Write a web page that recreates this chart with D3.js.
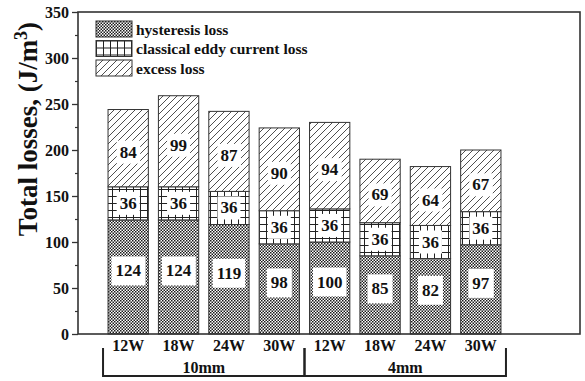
<!DOCTYPE html>
<html>
<head>
<meta charset="utf-8">
<script src="https://cdn.jsdelivr.net/npm/d3@7"></script>
<style>
  html, body { margin: 0; padding: 0; background: #fff; }
  svg { display: block; }
  text { font-family: "Liberation Serif", "Times New Roman", serif; font-weight: bold; fill: #111; }
</style>
</head>
<body>
<svg id="chart" width="585" height="381"></svg>
<script>
// Loss components per sample (J/m^3)
const categories = ["12W", "18W", "24W", "30W", "12W", "18W", "24W", "30W"];
const groupLabels = ["10mm", "4mm"];
const groupSizes = [4, 4];
const hysteresis = [124, 124, 119, 98, 100, 85, 82, 97];
const eddy = [36, 36, 36, 36, 36, 36, 36, 36];
const excess = [84, 99, 87, 90, 94, 69, 64, 67];
const seriesNames = ["hysteresis loss", "classical eddy current loss", "excess loss"];
const yTicks = [0, 50, 100, 150, 200, 250, 300, 350];
const yMinorTicks = [25, 75, 125, 175, 225, 275, 325];

const svg = d3.select("#chart");
const frame = { left: 78, right: 580, top: 12, bottom: 334 };

// Fill patterns for the three components
const defs = svg.append("defs");
const pChk = defs.append("pattern").attr("id", "pat-hyst")
  .attr("patternUnits", "userSpaceOnUse").attr("width", 3).attr("height", 3);
pChk.append("rect").attr("width", 3).attr("height", 3).attr("fill", "#fff");
pChk.append("rect").attr("x", 0).attr("y", 0).attr("width", 1.5).attr("height", 1.5).attr("fill", "#1a1a1a");
pChk.append("rect").attr("x", 1.5).attr("y", 1.5).attr("width", 1.5).attr("height", 1.5).attr("fill", "#1a1a1a");

const pGrid = defs.append("pattern").attr("id", "pat-eddy")
  .attr("patternUnits", "userSpaceOnUse").attr("width", 7).attr("height", 7);
pGrid.append("rect").attr("width", 7).attr("height", 7).attr("fill", "#fff");
pGrid.append("path").attr("d", "M0,0.5H7M0.5,0V7").attr("stroke", "#222").attr("stroke-width", 1);

const pHatch = defs.append("pattern").attr("id", "pat-excess")
  .attr("patternUnits", "userSpaceOnUse").attr("width", 7).attr("height", 7);
pHatch.append("rect").attr("width", 7).attr("height", 7).attr("fill", "#fff");
pHatch.append("path").attr("d", "M-1,8L8,-1M-1,1L1,-1M6,8L8,6").attr("stroke", "#222").attr("stroke-width", 0.8);

const fills = ["url(#pat-hyst)", "url(#pat-eddy)", "url(#pat-excess)"];

// Scales
const idx = d3.range(categories.length);
const x = d3.scaleBand().domain(idx).range([103, 506]).paddingInner(0.2).paddingOuter(0.1);
const y = d3.scaleLinear().domain([0, 350]).range([frame.bottom, frame.top]);

// Stacked data
const rows = idx.map(i => ({ i, h: hysteresis[i], e: eddy[i], x: excess[i] }));
const stack = d3.stack().keys(["h", "e", "x"]);
const layers = stack(rows);

// Bars
const barG = svg.append("g");
layers.forEach((layer, k) => {
  barG.selectAll(null).data(layer).join("rect")
    .attr("x", d => x(d.data.i))
    .attr("y", d => y(d[1]))
    .attr("width", x.bandwidth())
    .attr("height", d => y(d[0]) - y(d[1]))
    .attr("fill", fills[k])
    .attr("stroke", "#333").attr("stroke-width", 1);
});

// Value labels on white boxes
const labelCfg = [
  { padX: 4, padY: 5, shift: -6 },
  { padX: 3, padY: 2, shift: 0 },
  { padX: 3, padY: 2, shift: 4 }
];
layers.forEach((layer, k) => {
  layer.forEach(d => {
    const v = d[1] - d[0];
    const cx = x(d.data.i) + x.bandwidth() / 2;
    const cy = y((d[0] + d[1]) / 2) + labelCfg[k].shift;
    const g = svg.append("g");
    const t = g.append("text").attr("x", cx).attr("y", cy)
      .attr("text-anchor", "middle").attr("dominant-baseline", "central")
      .style("font-size", "17px").text(v);
    const bb = t.node().getBBox();
    g.insert("rect", "text")
      .attr("x", bb.x - labelCfg[k].padX).attr("y", bb.y - labelCfg[k].padY)
      .attr("width", bb.width + 2 * labelCfg[k].padX)
      .attr("height", bb.height + 2 * labelCfg[k].padY)
      .attr("fill", "#fff");
  });
});

// Frame (top, right, bottom, left)
svg.append("rect")
  .attr("x", frame.left).attr("y", frame.top)
  .attr("width", frame.right - frame.left).attr("height", frame.bottom - frame.top)
  .attr("fill", "none").attr("stroke", "#333").attr("stroke-width", 1.6);

// Y axis
const yAxis = d3.axisLeft(y).tickValues(yTicks).tickSize(6).tickPadding(3);
const yg = svg.append("g").attr("transform", `translate(${frame.left},0)`).call(yAxis);
yg.select(".domain").remove();
yg.selectAll(".tick line").attr("stroke", "#333").attr("stroke-width", 1.3);
yg.selectAll(".tick text").style("font-size", "16px")
  .style("font-family", '"Liberation Serif", "Times New Roman", serif').style("font-weight", "bold").attr("fill", "#111");
const ym = d3.axisLeft(y).tickValues(yMinorTicks).tickSize(3).tickFormat("");
const ymg = svg.append("g").attr("transform", `translate(${frame.left},0)`).call(ym);
ymg.select(".domain").remove();
ymg.selectAll(".tick line").attr("stroke", "#333").attr("stroke-width", 1.2);

// Y title
svg.append("text")
  .attr("transform", "translate(37,129) rotate(-90)")
  .attr("text-anchor", "middle")
  .style("font-size", "27px")
  .call(t => {
    t.append("tspan").text("Total losses, (J/m");
    t.append("tspan").attr("dy", -10).style("font-size", "18px").text("3");
    t.append("tspan").attr("dy", 10).text(")");
  });

// Category labels
svg.append("g").selectAll("text").data(idx).join("text")
  .attr("x", i => x(i) + x.bandwidth() / 2)
  .attr("y", 351)
  .attr("text-anchor", "middle")
  .style("font-size", "16px")
  .text(i => categories[i]);

// Group brackets
let start = 0;
groupLabels.forEach((lab, gi) => {
  const first = start, last = start + groupSizes[gi] - 1;
  const x0 = x(first) - 5, x1 = x(last) + x.bandwidth() + 5;
  svg.append("path")
    .attr("d", `M${x0},348V376H${x1}V348`)
    .attr("fill", "none").attr("stroke", "#222").attr("stroke-width", 2);
  svg.append("text")
    .attr("x", (x0 + x1) / 2).attr("y", 373)
    .attr("text-anchor", "middle").style("font-size", "16px").text(lab);
  start += groupSizes[gi];
});

// Legend
const legend = svg.append("g").attr("transform", "translate(96,21)");
seriesNames.forEach((name, k) => {
  const row = legend.append("g").attr("transform", `translate(0,${k * 19.5})`);
  row.append("rect").attr("width", 36).attr("height", 16)
    .attr("fill", fills[k]).attr("stroke", "#333").attr("stroke-width", 1);
  row.append("text").attr("x", 40).attr("y", 8).attr("dominant-baseline", "central")
    .style("font-size", "15.5px").text(name);
});
</script>
</body>
</html>
